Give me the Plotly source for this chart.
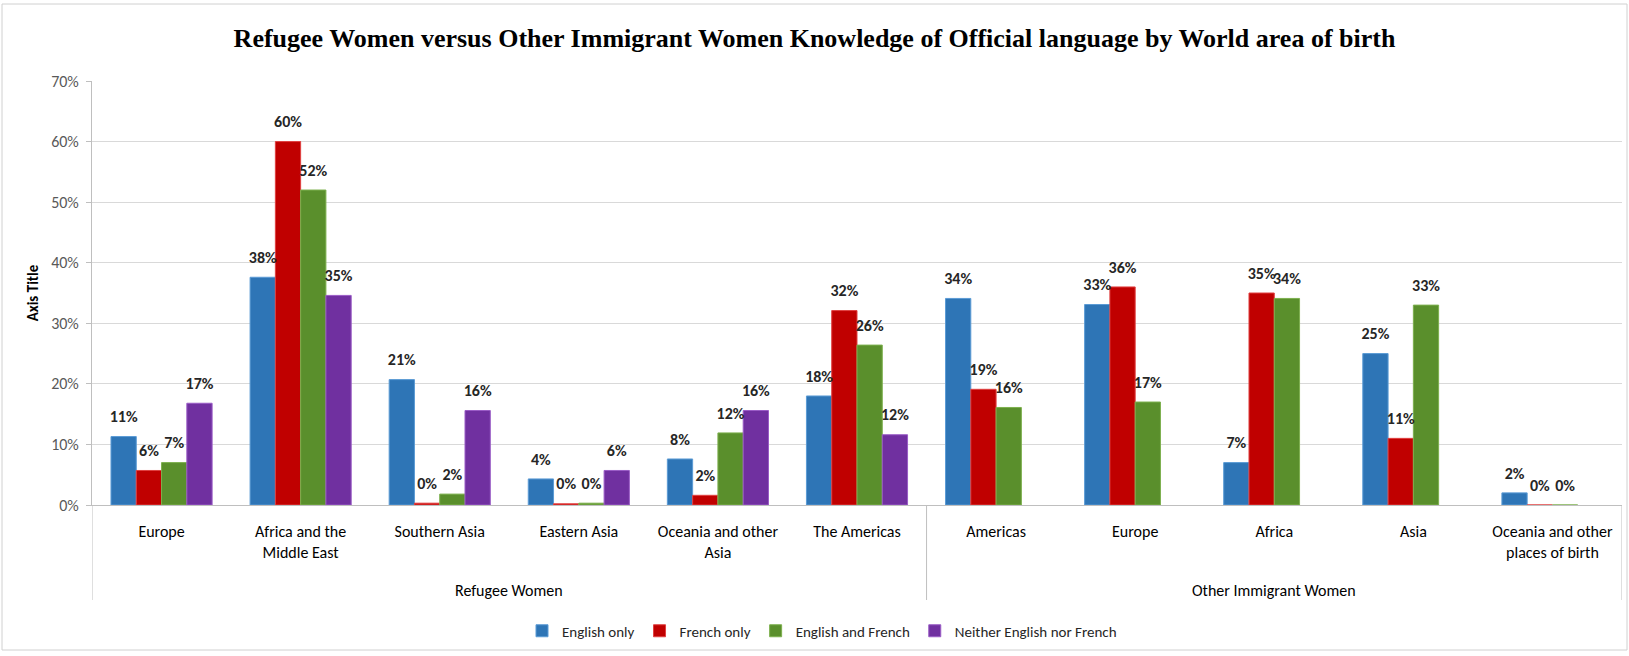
import plotly.graph_objects as go

# Two-level category axis: group, then world area of birth
groups = ["Refugee Women"] * 6 + ["Other Immigrant Women"] * 5
areas = [
    "Europe", "Africa and the<br>Middle East", "Southern Asia", "Eastern Asia",
    "Oceania and other<br>Asia", "The Americas",
    "Americas", "Europe", "Africa", "Asia", "Oceania and other<br>places of birth",
]

english_only = [0.113, 0.376, 0.207, 0.043, 0.076, 0.180, 0.341, 0.331, 0.070, 0.250, 0.020]
french_only = [0.057, 0.600, 0.003, 0.002, 0.016, 0.321, 0.191, 0.360, 0.350, 0.110, 0.000]
english_and_french = [0.070, 0.520, 0.018, 0.003, 0.119, 0.264, 0.161, 0.170, 0.341, 0.330, 0.000]
neither = [0.168, 0.346, 0.156, 0.057, 0.156, 0.116, None, None, None, None, None]

series = [
    ("English only", english_only, "#2E75B6", "#5B9BD5"),
    ("French only", french_only, "#C00000", "#E04040"),
    ("English and French", english_and_french, "#5A8F2C", "#7DB04E"),
    ("Neither English nor French", neither, "#7030A0", "#9A5CC6"),
]

keys = [f"{g}|{a}" for g, a in zip(groups, areas)]

LABEL_FONT = "Carlito, Lato, Arial, sans-serif"
BARGAP = 0.273

fig = go.Figure()
for i, (name, vals, color, edge) in enumerate(series):
    fig.add_trace(go.Bar(
        name=name,
        x=keys,
        y=vals,
        offsetgroup=str(i),
        marker=dict(color=color, line=dict(color=edge, width=1)),
        hovertemplate="%{y:.0%}<extra>" + name + "</extra>",
    ))
# Value labels sitting above each bar, grouped the same way as the bars
for i, (name, vals, color, edge) in enumerate(series):
    fig.add_trace(go.Scatter(
        x=keys,
        y=vals,
        offsetgroup=str(i),
        mode="markers+text",
        marker=dict(size=15, opacity=0),
        texttemplate="<b>%{y:.0%}</b>",
        textposition="top center",
        textfont=dict(family=LABEL_FONT, size=16, color="#262626"),
        cliponaxis=False,
        showlegend=False,
        hoverinfo="skip",
    ))

# Plot-area geometry in pixels (for paper-referenced decorations)
W, H = 1629, 656
L, R, T, B = 92, 7, 81, 151
pw, ph = W - L - R, H - T - B


def py(pix):
    """Convert a pixel row to paper y."""
    return (H - B - pix) / ph


def px(pix):
    """Convert a pixel column to paper x."""
    return (pix - L) / pw


shapes = []
# Group dividers below the category axis
for xv in (-0.5, 5.5, len(keys) - 0.5):
    shapes.append(dict(type="line", xref="x", yref="paper", x0=xv, x1=xv,
                       y0=0, y1=py(600), line=dict(color="#BFBFBF", width=1)))
# Outer chart border
shapes.append(dict(type="rect", xref="paper", yref="paper",
                   x0=px(2), x1=px(1627), y0=py(650), y1=py(4),
                   line=dict(color="#D0D0D0", width=1), fillcolor="rgba(0,0,0,0)",
                   layer="below"))

annotations = []
for gname, centre in (("Refugee Women", 2.5), ("Other Immigrant Women", 8)):
    annotations.append(dict(text=gname, xref="x", yref="paper", x=centre, y=py(590),
                            showarrow=False, yanchor="middle",
                            font=dict(family=LABEL_FONT, size=16, color="#000000")))

fig.update_layout(
    width=W, height=H,
    margin=dict(l=L, r=R, t=T, b=B),
    paper_bgcolor="white", plot_bgcolor="white",
    barmode="group", bargap=BARGAP, bargroupgap=0,
    scattermode="group", scattergap=BARGAP,
    title=dict(
        text="<b>Refugee Women versus Other Immigrant Women Knowledge of Official language by World area of birth</b>",
        x=0.5, xref="container", y=1 - 38 / H, yref="container", yanchor="middle",
        font=dict(family="Liberation Serif, Times New Roman, serif", size=26, color="#000000"),
    ),
    font=dict(family=LABEL_FONT, size=16, color="#000000"),
    xaxis=dict(
        type="category", categoryorder="array", categoryarray=keys,
        tickmode="array", tickvals=keys, ticktext=areas,
        showgrid=False, showline=True, linecolor="#BFBFBF", linewidth=1,
        ticks="", ticklabelstandoff=12,
        tickfont=dict(family=LABEL_FONT, size=16, color="#000000"),
        range=[-0.5, len(keys) - 0.5],
    ),
    yaxis=dict(
        range=[0, 0.7], dtick=0.1, tickformat=".0%",
        showgrid=True, gridcolor="#D9D9D9", gridwidth=1,
        showline=True, linecolor="#BFBFBF", linewidth=1,
        ticks="outside", ticklen=5, tickcolor="#BFBFBF",
        ticklabelstandoff=4,
        tickfont=dict(family=LABEL_FONT, size=16, color="#595959"),
        title=dict(text="<b>Axis Title</b>", standoff=8,
                   font=dict(family=LABEL_FONT, size=15, color="#000000")),
        zeroline=False,
    ),
    legend=dict(
        orientation="h", x=px(822), xanchor="center", y=py(631), yanchor="middle",
        font=dict(family=LABEL_FONT, size=15, color="#262626"),
        itemwidth=30, traceorder="normal",
    ),
    shapes=shapes,
    annotations=annotations,
    showlegend=True,
)

fig.write_html("out.html")
